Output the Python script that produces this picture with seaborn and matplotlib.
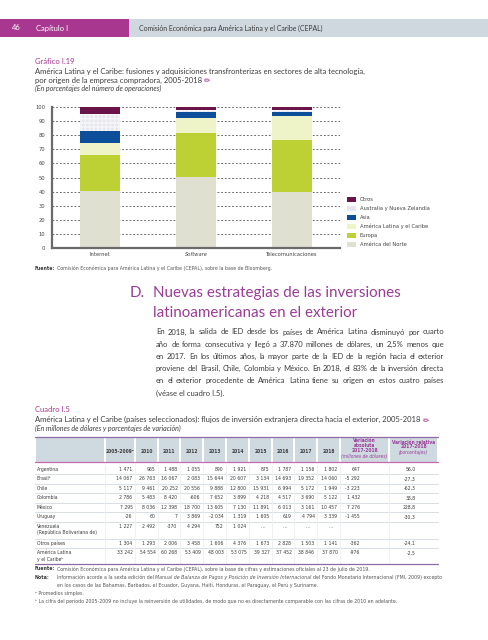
import numpy as np
import pandas as pd
import matplotlib
matplotlib.use("Agg")
import matplotlib.pyplot as plt
from matplotlib import font_manager
from matplotlib.patches import Rectangle
import seaborn as sns

# ---- chart data (percent of number of operations) ----
categorias = ["Internet", "Software", "Telecomunicaciones"]
regiones = ["América del Norte", "Europa", "América Latina y el Caribe",
            "Asia", "Australia y Nueva Zelandia", "Otros"]
america_norte = [40.5, 50.4, 40.0]
europa = [25.5, 31.3, 36.3]
america_latina = [8.5, 10.6, 17.0]
asia = [8.8, 4.2, 3.3]
australia = [12.0, 1.3, 1.2]
otros = [4.7, 2.2, 2.2]
colores = ["#dfe0cf", "#bdd134", "#eef4c8", "#0d4e9a", "#e6e6ee", "#6a1449"]

# ---- table data (millions of dollars) ----
columnas = ["2005-2009ᵃ", "2010", "2011", "2012", "2013", "2014",
            "2015", "2016", "2017", "2018"]
paises = ["Argentina", "Brasilᵇ", "Chile", "Colombia", "México", "Uruguay",
          "Venezuela\n(República Bolivariana de)", "Otros países",
          "América Latina\ny el Caribeᵇ"]
argentina = [1471, 965, 1488, 1055, 890, 1921, 875, 1787, 1156, 1802]
brasil = [14067, 26763, 16067, 2083, 15644, 20607, 3134, 14693, 19352, 14060]
chile = [5117, 9461, 20252, 20556, 9888, 12800, 15931, 6994, 5172, 1949]
colombia = [2786, 5483, 8420, -606, 7652, 3899, 4218, 4517, 3690, 5122]
mexico = [7295, 8036, 12398, 18700, 13605, 7130, 11891, 6013, 3161, 10457]
uruguay = [-26, 60, 7, 3869, -2034, 1319, 1605, 619, 4794, 3339]
venezuela = [1227, 2492, -370, 4294, 752, 1024, None, None, None, None]
otros_paises = [1304, 1293, 2006, 3458, 1606, 4376, 1673, 2828, 1503, 1141]
total_alc = [33242, 54554, 60268, 53409, 48003, 53075, 39327, 37452, 38846, 37870]
variacion_abs = [647, -5292, -3223, 1432, 7276, -1455, None, -362, -976]
variacion_rel = [56.0, -27.3, -62.3, 38.8, 228.8, -30.3, None, -24.1, -2.5]

W, H = 489, 640
sns.set_style("white")
BODY = ["Lato", "DejaVu Sans"]
plt.rcParams["font.family"] = BODY

# pick a condensed face if one is installed, else a plain narrow-ish sans
faces = font_manager.fontManager.ttflist
cond = [f for f in faces if f.stretch in ("condensed", "semi-condensed")
        and f.style == "normal" and f.weight in (400, "normal", "regular")]
if any(f.name == "Liberation Sans Narrow" for f in faces):
    NK = dict(family=["Liberation Sans Narrow", "DejaVu Sans"])
elif cond:
    NK = dict(family=[cond[0].name, "DejaVu Sans"], fontstretch=cond[0].stretch)
else:
    NK = dict(family=["Roboto", "DejaVu Sans"])

fig = plt.figure(figsize=(W / 100, H / 100), dpi=100)
rend = fig.canvas.get_renderer()


def fx(x):
    return x / W


def fy(y):
    return 1 - y / H


def txt(x, y, s, **kw):
    kw.setdefault("ha", "left")
    kw.setdefault("va", "center")
    return fig.text(fx(x), fy(y), s, **kw)


def width_of(t):
    return t.get_window_extent(rend).width


def fit_size(s, target, **kw):
    t = txt(0, 0, s, fontsize=10, **kw)
    w = width_of(t)
    t.remove()
    return 10 * target / w


def runs(x, y, parts, **common):
    for s, kw in parts:
        if s == " ":
            x += common.get("fontsize", 6) * 0.38
            continue
        t = txt(x, y, s, **{**common, **kw})
        x += width_of(t)
    return x


def justify(words, x0, x1, y, **kw):
    objs = [txt(0, y, w, **kw) for w in words]
    ws = [width_of(o) for o in objs]
    gap = (x1 - x0 - sum(ws)) / (len(words) - 1)
    x = x0
    for o, w in zip(objs, ws):
        o.set_x(fx(x))
        x += w + gap


def rect(x0, y0, x1, y1, color, **kw):
    fig.patches.append(Rectangle((fx(x0), fy(y1)), (x1 - x0) / W, (y1 - y0) / H,
                                 transform=fig.transFigure, facecolor=color,
                                 edgecolor="none", **kw))


def hline(x0, x1, y, color, lw):
    fig.add_artist(plt.Line2D([fx(x0), fx(x1)], [fy(y), fy(y)],
                              transform=fig.transFigure, color=color, lw=lw))


MAGENTA = "#a8388f"
PURPLE = "#9b3c97"
DARK = "#3c3c3c"
GREY = "#555555"

# ---- page header ----
rect(0, 19, 129, 37, MAGENTA)
rect(129, 19, W, 37, "#cfd8df")
txt(12, 28, "46", color="white", fontsize=5.5)
txt(36, 28, "Capítulo I", color="white", fontsize=5.5)
s_hdr = "Comisión Económica para América Latina y el Caribe (CEPAL)"
txt(139, 28, s_hdr, color=DARK, fontsize=fit_size(s_hdr, 186))

# ---- chart title ----
t1 = "América Latina y el Caribe: fusiones y adquisiciones transfronterizas en sectores de alta tecnología,"
fs_t = fit_size(t1, 332)
txt(35, 62, "Gráfico I.19", color=MAGENTA, fontsize=fs_t)
txt(35, 71, t1, color=DARK, fontsize=fs_t)
xe = runs(35, 80, [("por origen de la empresa compradora, 2005-2018", {"color": DARK})], fontsize=fs_t)
txt(xe + 2, 80, "✏", color=MAGENTA, fontsize=fs_t, family="DejaVu Sans")
txt(35, 88.5, "(En porcentajes del número de operaciones)", color=DARK,
    fontsize=fs_t * 0.92, style="italic")

# ---- stacked bar chart ----
ax = fig.add_axes([fx(52), fy(248), (340 - 52) / W, (248 - 107) / H])
series = [america_norte, europa, america_latina, asia, australia, otros]
cumul = np.cumsum(np.array(series), axis=0)
df = pd.DataFrame(cumul.T, columns=regiones)
df["categoria"] = categorias
for i in reversed(range(len(regiones))):
    extra = {}
    if regiones[i] == "Australia y Nueva Zelandia":
        extra = dict(hatch="++++", edgecolor="#f6f6f9")
    sns.barplot(data=df, x="categoria", y=regiones[i], color=colores[i],
                saturation=1, width=0.41, linewidth=0, ax=ax, **extra)

fs_ax = fit_size("Telecomunicaciones", 52, **NK)
ax.set_ylim(0, 100)
ax.set_xlim(-0.5, 2.5)
ax.set_yticks(range(0, 101, 10))
ax.set_xlabel("")
ax.set_ylabel("")
ax.set_axisbelow(True)
ax.yaxis.grid(True, linestyle=(0, (2.2, 2.2)), color="#555555", lw=0.6)
for side in ["top", "right"]:
    ax.spines[side].set_visible(False)
for side in ["left", "bottom"]:
    ax.spines[side].set_color("#6a6a6a")
    ax.spines[side].set_linewidth(1.6)
ax.tick_params(axis="y", length=3, width=1, color="#6a6a6a", pad=2,
               labelsize=fs_ax, labelcolor="#444444")
ax.tick_params(axis="x", which="major", length=0, pad=3, labelsize=fs_ax,
               labelcolor="#444444")
ax.set_xticks([-0.5, 0.5, 1.5, 2.5], minor=True)
ax.tick_params(axis="x", which="minor", length=3, width=1, color="#6a6a6a",
               direction="inout")
for lab in ax.get_yticklabels() + ax.get_xticklabels():
    lab.set_family(NK["family"])
    if "fontstretch" in NK:
        lab.set_fontstretch(NK["fontstretch"])
ax.get_xticklabels()[1].set_style("italic")

# legend (top to bottom: Otros ... America del Norte)
fs_lg = fit_size("Australia y Nueva Zelandia", 70, **NK)
leg_y = [199.5, 208.5, 217.5, 226.5, 235.5, 244.5]
for k, i in enumerate(reversed(range(len(regiones)))):
    rect(347, leg_y[k] - 2.5, 356, leg_y[k] + 2.5, colores[i])
    txt(360, leg_y[k], regiones[i], fontsize=fs_lg, color="#444444", **NK)

f1 = "Comisión Económica para América Latina y el Caribe (CEPAL), sobre la base de Bloomberg."
fs_f = fit_size(f1, 215, **NK)
txt(35, 268, "Fuente:", fontsize=fs_f, weight="bold", color=DARK, **NK)
txt(57, 268, f1, fontsize=fs_f, color=GREY, **NK)

# ---- section heading ----
fs_h = fit_size("Nuevas estrategias de las inversiones", 247)
txt(130, 293, "D.", fontsize=fs_h, color=PURPLE)
txt(153, 293, "Nuevas estrategias de las inversiones", fontsize=fs_h, color=PURPLE)
txt(153, 313, "latinoamericanas en el exterior", fontsize=fs_h, color=PURPLE)

# ---- paragraph ----
parrafo = [
    "En 2018, la salida de IED desde los países de América Latina disminuyó por cuarto",
    "año de forma consecutiva y llegó a 37.870 millones de dólares, un 2,5% menos que",
    "en 2017. En los últimos años, la mayor parte de la IED de la región hacia el exterior",
    "proviene del Brasil, Chile, Colombia y México. En 2018, el 83% de la inversión directa",
    "en el exterior procedente de América Latina tiene su origen en estos cuatro países",
]
fs_p = min(fit_size(l, 287) for l in parrafo)
for k, linea in enumerate(parrafo):
    justify(linea.split(" "), 156, 444, 332 + 12.2 * k, fontsize=fs_p, color=DARK)
txt(156, 332 + 12.2 * 5, "(véase el cuadro I.5).", fontsize=fs_p, color=DARK)

# ---- table title ----
c1 = "América Latina y el Caribe (países seleccionados): flujos de inversión extranjera directa hacia el exterior, 2005-2018"
fs_c = fit_size(c1, 388)
txt(35, 410, "Cuadro I.5", color=MAGENTA, fontsize=fs_c)
xe = runs(35, 419.5, [(c1, {"color": DARK})], fontsize=fs_c)
txt(xe + 2, 419.5, "✏", color=MAGENTA, fontsize=fs_c, family="DejaVu Sans")
txt(35, 428.5, "(En millones de dólares y porcentajes de variación)", color=DARK,
    fontsize=fs_c * 0.92, style="italic")

# ---- table ----
bordes = [35, 105, 135, 158, 180, 203, 226, 249, 272, 294, 317, 340, 389, 438]
HEAD_TOP, HEAD_BOT = 436.5, 461.5
HEADC = "#cfd9e0"
for a, b in zip(bordes[:-1], bordes[1:]):
    rect(a + 0.6, HEAD_TOP, b - 0.6, HEAD_BOT, HEADC)
hline(35, 438, HEAD_TOP, "#8f6aa8", 0.9)
hline(35, 438, HEAD_BOT, "#c46bb0", 0.9)

FS_T = min(fit_size("39 327", 16, **NK), fit_size("(República Bolivariana de)", 66, **NK))
FS_HD = min(FS_T, fit_size("(millones de dólares)", 46, **NK, style="italic"),
            fit_size("Variación relativa", 45, **NK, weight="bold"))
for j, col in enumerate(columnas):
    cx = (bordes[j + 1] + bordes[j + 2]) / 2
    txt(cx, 451.5, col, ha="center", fontsize=FS_HD, weight="bold", color=DARK, **NK)
cx = (bordes[11] + bordes[12]) / 2
for k, s in enumerate(["Variación", "absoluta", "2017-2018"]):
    txt(cx, 440.5 + 5 * k, s, ha="center", fontsize=FS_HD, weight="bold",
        color=PURPLE, **NK)
txt(cx, 456, "(millones de dólares)", ha="center", fontsize=FS_HD, style="italic",
    color=PURPLE, **NK)
cx = (bordes[12] + bordes[13]) / 2
for k, s in enumerate(["Variación relativa", "2017-2018"]):
    txt(cx, 442 + 5 * k, s, ha="center", fontsize=FS_HD, weight="bold",
        color=PURPLE, **NK)
txt(cx, 452.5, "(porcentajes)", ha="center", fontsize=FS_HD, style="italic",
    color=PURPLE, **NK)


def miles(v):
    s = f"{abs(v):,}".replace(",", " ")
    return ("-" if v < 0 else "") + s


def decimal(v):
    return f"{v:.1f}".replace(".", ",")


filas = [argentina, brasil, chile, colombia, mexico, uruguay, venezuela,
         otros_paises, total_alc]
alturas = [9.5, 9.5, 9.5, 9.5, 9.5, 9.5, 17, 9.5, 15.5]
y = HEAD_BOT + 3
for r, (nombre, fila) in enumerate(zip(paises, filas)):
    h = alturas[r]
    ytxt = y + 4.8
    if r < len(filas) - 1:
        hline(35, 438, y + h, "#d3d9de", 0.6)
    for a in bordes[1:-1]:
        fig.add_artist(plt.Line2D([fx(a), fx(a)], [fy(y), fy(y + h)],
                                  transform=fig.transFigure, color="#eceff1", lw=0.6))
    for k, linea in enumerate(nombre.split("\n")):
        txt(37, ytxt + 6.2 * k, linea, fontsize=FS_T, color=DARK, **NK)
    for j, v in enumerate(fila):
        xr = bordes[j + 2] - 2.5
        if v is None:
            txt(xr - 4, ytxt, "…", ha="right", fontsize=FS_T, color="#666666", **NK)
        else:
            txt(xr, ytxt, miles(v), ha="right", fontsize=FS_T, color=DARK, **NK)
    if variacion_abs[r] is not None:
        txt(360, ytxt, miles(variacion_abs[r]), ha="right", fontsize=FS_T,
            color=DARK, **NK)
        txt(416, ytxt, decimal(variacion_rel[r]), ha="right", fontsize=FS_T,
            color=DARK, **NK)
    y += h
hline(35, 438, y, "#8f6aa8", 0.9)

# ---- notes ----
n1 = "Comisión Económica para América Latina y el Caribe (CEPAL), sobre la base de cifras y estimaciones oficiales al 23 de julio de 2019."
n_b = "ᵇ La cifra del período 2005-2009 no incluye la reinversión de utilidades, de modo que no es directamente comparable con las cifras de 2010 en adelante."
FS_N = fit_size(n_b, 362, **NK)
nt = dict(fontsize=FS_N, color=GREY, **NK)
txt(35, 569, "Fuente:", fontsize=FS_N, weight="bold", color=DARK, **NK)
txt(57, 569, n1, **nt)
txt(35, 577.5, "Nota:", fontsize=FS_N, weight="bold", color=DARK, **NK)
runs(57, 577.5, [
    ("Información acorde a la sexta edición del", {}), (" ", {}),
    ("Manual de Balanza de Pagos y Posición de Inversión Internacional", {"style": "italic"}),
    (" ", {}),
    ("del Fondo Monetario Internacional (FMI, 2009) excepto", {}),
], **nt)
txt(57, 585.5, "en los casos de las Bahamas, Barbados, el Ecuador, Guyana, Haití, Honduras, el Paraguay, el Perú y Suriname.", **nt)
txt(35, 593.5, "ᵃ Promedios simples.", **nt)
txt(35, 601.5, n_b, **nt)

fig.savefig("out.png", dpi=100)
